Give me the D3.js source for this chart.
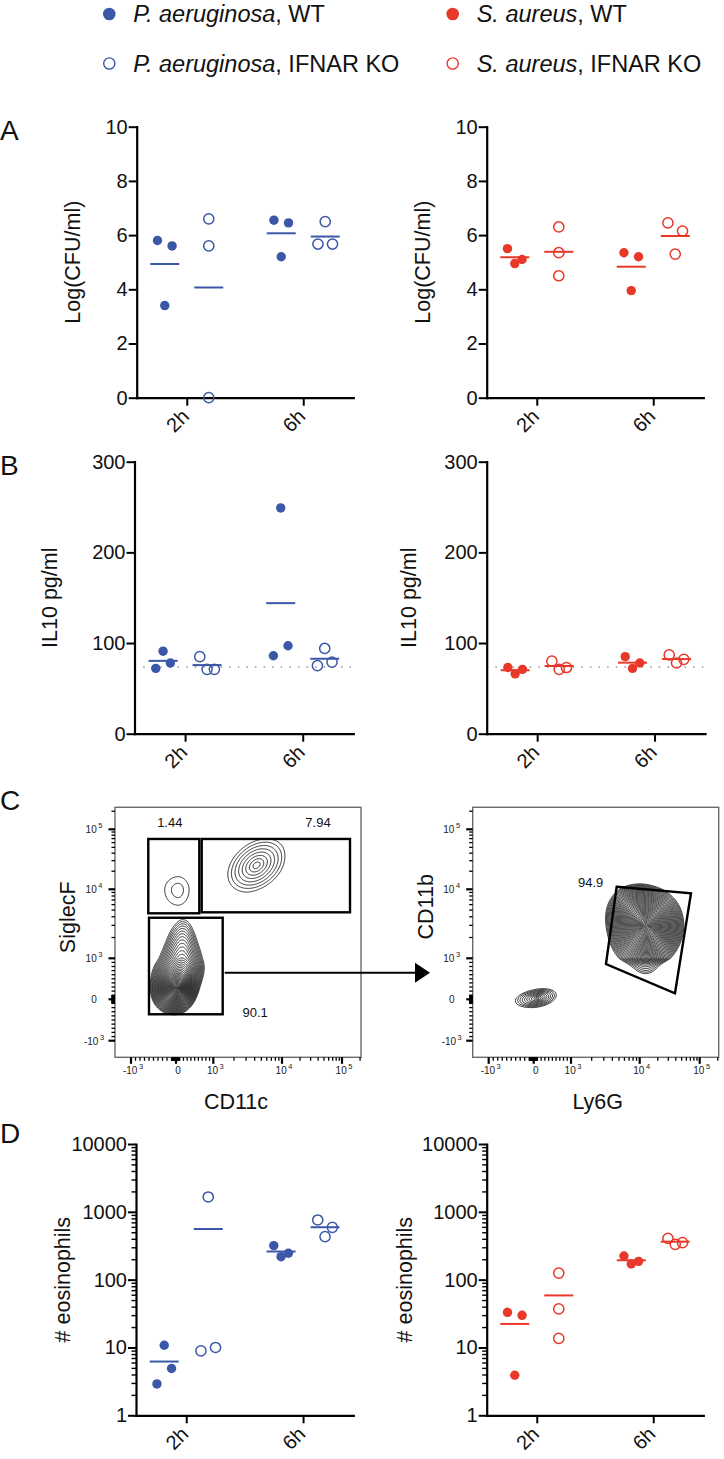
<!DOCTYPE html>
<html><head><meta charset="utf-8">
<script src="https://cdn.jsdelivr.net/npm/d3@7"></script>
<style>body{margin:0;background:#fff} svg{display:block}</style>
</head><body><svg id="fig" width="724" height="1459"></svg>
<script>
// ---------------- DATA ----------------
const times = ["2h", "6h"];
const genotypes = ["WT", "KO"];

// Panel A : Log(CFU/ml)  [2h values, 6h values]
const cfuPaWT = [[5.8, 5.6, 3.4], [6.55, 6.45, 5.2]];
const cfuPaKO = [[6.6, 5.6, 0], [6.5, 5.67, 5.67]];
const cfuSaWT = [[5.5, 4.95, 5.1], [5.35, 5.2, 3.95]];
const cfuSaKO = [[6.3, 5.35, 4.5], [6.45, 6.15, 5.3]];
// horizontal spread slot of each point (-1 left, 0 centre, 1 right)
const cfuPaWTslot = [[-1, 1, 0], [-1, 1, 0]];
const cfuPaKOslot = [[0, 0, 0], [0, -1, 1]];
const cfuSaWTslot = [[-1, 0, 1], [-1, 1, 0]];
const cfuSaKOslot = [[0, 0, 0], [-1, 1, 0]];
const cfuTicks = [0, 2, 4, 6, 8, 10];

// Panel B : IL10 pg/ml
const il10PaWT = [[91, 72, 78], [249, 86, 97]];
const il10PaKO = [[85, 71, 71], [94, 75, 79]];
const il10SaWT = [[73, 66, 71], [85, 72, 78]];
const il10SaKO = [[80, 71, 73], [87, 78, 82]];
const il10PaWTslot = [[0, -1, 1], [0, -1, 1]];
const il10PaKOslot = [[-1, 0, 1], [0, -1, 1]];
const il10SaWTslot = [[-1, 0, 1], [-1, 0, 1]];
const il10SaKOslot = [[-1, 0, 1], [-1, 0, 1]];
const il10Ticks = [0, 100, 200, 300];
const il10Limit = 73.5;

// Panel D : # eosinophils
const eosPaWT = [[10.8, 4.9, 2.9], [317, 218, 245]];
const eosPaKO = [[1655, 8.9, 10], [758, 590, 430]];
const eosSaWT = [[33, 29.8, 3.9], [223, 170, 186]];
const eosSaKO = [[125, 37, 13.6], [407, 332, 351]];
const eosPaWTslot = [[0, 1, -1], [-1, 0, 1]];
const eosPaKOslot = [[0, -1, 1], [-1, 1, 0]];
const eosSaWTslot = [[-1, 1, 0], [-1, 0, 1]];
const eosSaKOslot = [[0, 0, 0], [-1, 0, 1]];
const eosTicks = [1, 10, 100, 1000, 10000];
const eosMinor = [1, 10, 100, 1000].flatMap(d => d3.range(2, 10).map(k => k * d));

// Panel C : flow cytometry (fluorescence values)
const flowMajor = [-1000, 0, 1000, 10000, 100000];
const flowMinor = [...d3.range(-900, 0, 100), ...d3.range(-90, 100, 10).filter(v => v !== 0),
  ...d3.range(100, 1000, 100), ...d3.range(2000, 10000, 1000), ...d3.range(20000, 100000, 10000), 200000];
const gatesLeft = [
  {label: "1.44", x: [-616, 625], y: [4490, 69000]},
  {label: "7.94", x: [689, 136000], y: [4640, 69000]},
  {label: "90.1", x: [-600, 1370], y: [-362, 3870]}
];
const gateRight = {label: "94.9", pts: [[4620, 11000], [71600, 8750], [38700, 146], [3230, 861]]};
// populations: gaussian components in decade units (x,y), spreads, correlation, weight
const popsLeft = [
  {n: 8, R: 2.2, comps: [{x: 1.63, y: 2.40, sx: 0.19, sy: 0.2, rho: 0.35, w: 1}]},
  {n: 2, R: 2.0, comps: [{x: 0.05, y: 1.99, sx: 0.15, sy: 0.11, rho: 0, w: 1}]},
  {n: 38, R: 2.6, comps: [
    {x: 0.02, y: 0.24, sx: 0.22, sy: 0.24, rho: 0.1, w: 1},
    {x: 0.12, y: 0.68, sx: 0.3, sy: 0.28, rho: 0.15, w: 0.35},
    {x: 0.15, y: 1.2, sx: 0.22, sy: 0.25, rho: 0.1, w: 0.1}]}
];
const popsRight = [
  {n: 42, R: 2.5, comps: [
    {x: 2.15, y: 1.42, sx: 0.24, sy: 0.24, rho: 0.1, w: 1},
    {x: 1.95, y: 1.65, sx: 0.2, sy: 0.2, rho: 0, w: 0.45},
    {x: 2.1, y: 0.75, sx: 0.18, sy: 0.18, rho: 0, w: 0.06}]},
  {n: 10, R: 2.3, comps: [{x: 0.1, y: 0.03, sx: 0.22, sy: 0.1, rho: 0.3, w: 1}]}
];

// ---------------- DRAWING ----------------
const BLUE = "#3b57a7", RED = "#e8382a";
const FONT = '"Liberation Sans", Arial, Helvetica, sans-serif';
const svg = d3.select("#fig").attr("font-family", FONT);
svg.append("rect").attr("width", 724).attr("height", 1459).attr("fill", "#fff");

// legend
const legend = [
  {sp: "P. aeruginosa", gt: "WT", color: BLUE, filled: true, col: 0, row: 0},
  {sp: "P. aeruginosa", gt: "IFNAR KO", color: BLUE, filled: false, col: 0, row: 1},
  {sp: "S. aureus", gt: "WT", color: RED, filled: true, col: 1, row: 0},
  {sp: "S. aureus", gt: "IFNAR KO", color: RED, filled: false, col: 1, row: 1}
];
const legCol = d3.scaleOrdinal().domain([0, 1]).range([109.3, 452.7]);
const legRow = d3.scaleOrdinal().domain([0, 1]).range([14, 63.5]);
legend.forEach(d => {
  const cx = legCol(d.col), cy = legRow(d.row);
  svg.append("circle").attr("cx", cx).attr("cy", cy).attr("r", d.filled ? 6.3 : 5.6)
    .attr("fill", d.filled ? d.color : "#fff").attr("stroke", d.color).attr("stroke-width", d.filled ? 0 : 1.4);
  const t = svg.append("text").attr("x", cx + 24).attr("y", cy + 8).attr("font-size", 23.5).attr("fill", "#111");
  t.append("tspan").attr("font-style", "italic").text(d.sp);
  t.append("tspan").text(", " + d.gt);
});

// panel letters
[["A", 140], ["B", 475], ["C", 810], ["D", 1143]].forEach(([l, y]) =>
  svg.append("text").attr("x", 0).attr("y", y).attr("font-size", 28).attr("fill", "#111").text(l));

function dotPanel(o) {
  const y = (o.log ? d3.scaleLog() : d3.scaleLinear()).domain(o.domain).range([o.yBase, o.yTop]);
  const x = d3.scalePoint().domain(times).range([o.x0, o.x1]).padding(0.43);
  const gOff = d3.scalePoint().domain(genotypes).range([-22, 22]);
  const step = 7.3;
  const root = svg.append("g");
  if (o.limit != null) {
    root.append("line").attr("x1", o.x0).attr("x2", o.x1).attr("y1", y(o.limit)).attr("y2", y(o.limit))
      .attr("stroke", "#9a9a9a").attr("stroke-width", 1.6).attr("stroke-dasharray", "1.6 7");
  }
  const ya = root.append("g").attr("transform", `translate(${o.x0},0)`)
    .call(d3.axisLeft(y).tickValues(o.ticks).tickSize(8).tickSizeOuter(0).tickPadding(1).tickFormat(d3.format("d")));
  if (o.minor) {
    ya.selectAll(".minor").data(o.minor).join("line").attr("class", "minor")
      .attr("x2", -4.5).attr("y1", d => y(d) + 0.5).attr("y2", d => y(d) + 0.5)
      .attr("stroke", "#000").attr("stroke-width", 1.4);
  }
  const xa = root.append("g").attr("transform", `translate(0,${o.yBase})`)
    .call(d3.axisBottom(x).tickSize(8).tickSizeOuter(0));
  xa.selectAll("text").attr("y", null).attr("dy", null).attr("text-anchor", "end")
    .attr("transform", "translate(3,20) rotate(-45)");
  [ya, xa].forEach(a => {
    a.attr("font-family", FONT).attr("font-size", 20);
    a.select(".domain").attr("stroke", "#000").attr("stroke-width", 2.2).attr("stroke-linecap", "square");
    a.selectAll(".tick line").attr("stroke", "#000").attr("stroke-width", 2);
    a.selectAll(".tick text").attr("fill", "#111");
  });
  root.append("text").attr("transform", `translate(${o.titleX},${(o.yBase + o.yTop) / 2}) rotate(-90)`)
    .attr("text-anchor", "middle").attr("font-size", 21.5).attr("fill", "#111").text(o.title);

  const groups = [
    {key: "WT", vals: o.wt, slots: o.wtSlot, filled: true},
    {key: "KO", vals: o.ko, slots: o.koSlot, filled: false}
  ];
  groups.forEach(gr => times.forEach((t, ti) => {
    const cx = x(t) + gOff(gr.key);
    const vals = gr.vals[ti];
    const m = d3.mean(vals);
    root.append("line").attr("x1", cx - 14.5).attr("x2", cx + 14.5).attr("y1", y(m)).attr("y2", y(m))
      .attr("stroke", o.color).attr("stroke-width", 2);
    root.selectAll(null).data(vals).join("circle")
      .attr("cx", (v, i) => cx + gr.slots[ti][i] * step).attr("cy", v => y(v))
      .attr("r", gr.filled ? 4.7 : 5.1)
      .attr("fill", gr.filled ? o.color : "#fff").attr("stroke", o.color)
      .attr("stroke-width", gr.filled ? 0 : 1.5).attr("fill-opacity", gr.filled ? 1 : 0);
  }));
}

// Panel A
dotPanel({x0: 136.7, x1: 353.3, yBase: 397.7, yTop: 126.7, domain: [0, 10], ticks: cfuTicks,
  title: "Log(CFU/ml)", titleX: 80, color: BLUE, wt: cfuPaWT, ko: cfuPaKO, wtSlot: cfuPaWTslot, koSlot: cfuPaKOslot});
dotPanel({x0: 486.7, x1: 703.3, yBase: 397.7, yTop: 126.7, domain: [0, 10], ticks: cfuTicks,
  title: "Log(CFU/ml)", titleX: 430, color: RED, wt: cfuSaWT, ko: cfuSaKO, wtSlot: cfuSaWTslot, koSlot: cfuSaKOslot});
// Panel B
dotPanel({x0: 134.5, x1: 353.3, yBase: 733.7, yTop: 461.7, domain: [0, 300], ticks: il10Ticks, limit: il10Limit,
  title: "IL10 pg/ml", titleX: 57, color: BLUE, wt: il10PaWT, ko: il10PaKO, wtSlot: il10PaWTslot, koSlot: il10PaKOslot});
dotPanel({x0: 486.7, x1: 705, yBase: 733.7, yTop: 461.7, domain: [0, 300], ticks: il10Ticks, limit: il10Limit,
  title: "IL10 pg/ml", titleX: 415.5, color: RED, wt: il10SaWT, ko: il10SaKO, wtSlot: il10SaWTslot, koSlot: il10SaKOslot});
// Panel D
dotPanel({x0: 136, x1: 353.3, yBase: 1415.3, yTop: 1144, domain: [1, 10000], log: true, ticks: eosTicks, minor: eosMinor,
  title: "# eosinophils", titleX: 70, color: BLUE, wt: eosPaWT, ko: eosPaKO, wtSlot: eosPaWTslot, koSlot: eosPaKOslot});
dotPanel({x0: 486.7, x1: 703.3, yBase: 1415.3, yTop: 1144, domain: [1, 10000], log: true, ticks: eosTicks, minor: eosMinor,
  title: "# eosinophils", titleX: 411.5, color: RED, wt: eosSaWT, ko: eosSaKO, wtSlot: eosSaWTslot, koSlot: eosSaKOslot});

// ---------- Panel C : flow plots ----------
const fW = 246, fH = 250;
function T(v) { return Math.abs(v) <= 1000 ? v / 1000 : Math.sign(v) * (1 + Math.log10(Math.abs(v) / 1000)); }
const fxRel = d3.scaleLinear().domain([-1, 0, 1, 2, 3]).range([16, 61, 98.3, 167, 227]);
const fyRel = d3.scaleLinear().domain([-1, 0, 1, 2, 3]).range([233.4, 192, 151, 82, 22]);
const fx = v => fxRel(T(v)), fy = v => fyRel(T(v));

function popContours(pop) {
  const vals = new Float64Array(fW * fH);
  for (let j = 0; j < fH; j++) {
    const ty = fyRel.invert(j + 0.5);
    for (let i = 0; i < fW; i++) {
      const tx = fxRel.invert(i + 0.5);
      let s = 0;
      for (const c of pop.comps) {
        const dx = (tx - c.x) / c.sx, dy = (ty - c.y) / c.sy;
        const q = (dx * dx - 2 * c.rho * dx * dy + dy * dy) / (1 - c.rho * c.rho);
        s += c.w * Math.exp(-q / 2);
      }
      vals[j * fW + i] = s;
    }
  }
  const peak = d3.max(vals);
  const th = d3.range(pop.n).map(k => peak * Math.exp(-Math.pow(pop.R * (pop.n - k) / pop.n, 2) / 2));
  return d3.contours().size([fW, fH]).thresholds(th)(vals);
}

function expLabel(sel, v) {
  if (v === 0) { sel.text("0"); return; }
  const e = Math.round(Math.log10(Math.abs(v)));
  sel.append("tspan").text((v < 0 ? "-" : "") + "10");
  sel.append("tspan").attr("font-size", 7.5).attr("dx", 1.5).attr("dy", -5).text(e);
}

let clipId = 0;
function flowPlot(o) {
  const g = svg.append("g").attr("transform", `translate(${o.left},${o.top})`);
  const id = "clip" + (clipId++);
  g.append("clipPath").attr("id", id).append("rect").attr("width", fW).attr("height", fH);
  const cg = g.append("g").attr("clip-path", `url(#${id})`);
  const path = d3.geoPath();
  o.pops.forEach(pop => {
    cg.selectAll(null).data(popContours(pop)).join("path").attr("d", path)
      .attr("fill", "none").attr("stroke", "#111").attr("stroke-width", 0.85);
  });
  // frame
  g.append("rect").attr("width", fW).attr("height", fH).attr("fill", "none")
    .attr("stroke", "#6a6a6a").attr("stroke-width", 1.4);
  // ticks
  g.selectAll(null).data(flowMinor).join("line").attr("x1", 0).attr("x2", -3.5)
    .attr("y1", d => fy(d)).attr("y2", d => fy(d)).attr("stroke", "#000").attr("stroke-width", 1.3);
  g.selectAll(null).data(flowMajor).join("line").attr("x1", 0).attr("x2", -6.5)
    .attr("y1", d => fy(d)).attr("y2", d => fy(d)).attr("stroke", "#000").attr("stroke-width", 2.2);
  g.selectAll(null).data(flowMinor).join("line").attr("y1", fH).attr("y2", fH + 3.5)
    .attr("x1", d => fx(d)).attr("x2", d => fx(d)).attr("stroke", "#000").attr("stroke-width", 1.3);
  g.selectAll(null).data(flowMajor).join("line").attr("y1", fH).attr("y2", fH + 6.5)
    .attr("x1", d => fx(d)).attr("x2", d => fx(d)).attr("stroke", "#000").attr("stroke-width", 2.2);
  flowMajor.forEach(v => {
    g.append("text").attr("x", -21).attr("y", fy(v) + 4).attr("text-anchor", "middle")
      .attr("font-size", 10).attr("fill", "#222").call(expLabel, v);
    g.append("text").attr("x", fx(v) + 2).attr("y", fH + 16.5).attr("text-anchor", "middle")
      .attr("font-size", 10).attr("fill", "#222").call(expLabel, v);
  });
  // titles
  g.append("text").attr("x", o.xTitleX).attr("y", fH + 52).attr("text-anchor", "middle")
    .attr("font-size", 21.5).attr("fill", "#111").text(o.xTitle);
  g.append("text").attr("transform", `translate(-40,${o.yTitleY}) rotate(-90)`).attr("text-anchor", "middle")
    .attr("font-size", 21.5).attr("fill", "#111").text(o.yTitle);
  return g;
}

const leftG = flowPlot({left: 115, top: 807.3, pops: popsLeft, xTitle: "CD11c", yTitle: "SiglecF", xTitleX: 121, yTitleY: 110});
gatesLeft.forEach(gt => {
  const x0 = fx(gt.x[0]), x1 = fx(gt.x[1]), y0 = fy(gt.y[1]), y1 = fy(gt.y[0]);
  leftG.append("rect").attr("x", x0).attr("y", y0).attr("width", x1 - x0).attr("height", y1 - y0)
    .attr("fill", "none").attr("stroke", "#000").attr("stroke-width", 2.4);
});
const gl = gatesLeft.map(gt => ({x0: fx(gt.x[0]), x1: fx(gt.x[1]), y0: fy(gt.y[1]), y1: fy(gt.y[0]), label: gt.label}));
leftG.append("text").attr("x", (gl[0].x0 + gl[0].x1) / 2 - 4).attr("y", gl[0].y0 - 11.5).attr("text-anchor", "middle")
  .attr("font-size", 13).attr("fill", "#111").text(gl[0].label);
leftG.append("text").attr("x", gl[1].x1 - 32).attr("y", gl[1].y0 - 11.5).attr("text-anchor", "middle")
  .attr("font-size", 13).attr("fill", "#111").text(gl[1].label);
leftG.append("text").attr("x", gl[2].x1 + 32.5).attr("y", gl[2].y1 + 3).attr("text-anchor", "middle")
  .attr("font-size", 13).attr("fill", "#111").text(gl[2].label);

const rightG = flowPlot({left: 472.7, top: 807.3, pops: popsRight, xTitle: "Ly6G", yTitle: "CD11b", xTitleX: 125, yTitleY: 99.5});
rightG.append("path").attr("d", d3.line()(gateRight.pts.map(p => [fx(p[0]), fy(p[1])])) + "Z")
  .attr("fill", "none").attr("stroke", "#000").attr("stroke-width", 2.4).attr("stroke-linejoin", "miter");
rightG.append("text").attr("x", fx(gateRight.pts[0][0]) - 26).attr("y", fy(gateRight.pts[0][1]) + 0)
  .attr("text-anchor", "middle").attr("font-size", 13).attr("fill", "#111").text(gateRight.label);

// arrow from the 90.1 gate to the second plot
const arrowY = 807.3 + 165.4;
const ax0 = 115 + gl[2].x1 + 2, ax1 = 472.7 - 42.7;
svg.append("line").attr("x1", ax0).attr("x2", ax1 - 14).attr("y1", arrowY).attr("y2", arrowY)
  .attr("stroke", "#000").attr("stroke-width", 2);
svg.append("path").attr("d", `M${ax1 - 15},${arrowY - 10}L${ax1},${arrowY}L${ax1 - 15},${arrowY + 10}Z`).attr("fill", "#000");
</script></body></html>
